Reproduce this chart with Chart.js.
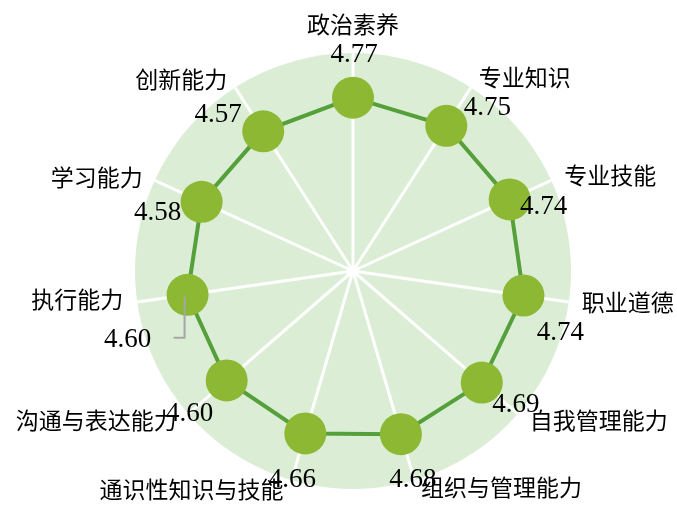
<!DOCTYPE html>
<html>
<head>
<meta charset="utf-8">
<script src="https://cdn.jsdelivr.net/npm/chart.js@4/dist/chart.umd.min.js"></script>
<style>
html,body{margin:0;padding:0;background:#fff;}
#wrap{width:677px;height:506px;}
</style>
</head>
<body>
<div id="wrap"><canvas id="c" width="677" height="506"></canvas></div>
<script>
const categories = ["政治素养","专业知识","专业技能","职业道德","自我管理能力","组织与管理能力","通识性知识与技能","沟通与表达能力","执行能力","学习能力","创新能力"];
const scores = [4.77,4.75,4.74,4.74,4.69,4.68,4.66,4.60,4.60,4.58,4.57];
const valueLabels = ["4.77","4.75","4.74","4.74","4.69","4.68","4.66","4.60","4.60","4.58","4.57"];

// label placement offsets (styling only)
const catOffsets = [[0,-26],[54,-8],[59,-2],[59,3],[81,9],[87,10],[-100,12],[-92,9],[-60,0],[-58,0],[-54,-6]];
const valOffsets = [[1,-43],[41,-18],[34,7],[37,37],[34,22],[12,46],[-13,46],[-37,33],[-60,45],[-44,11],[-45,-16]];
const leaderIndex = 8;

const CAT_FONT = '23px "Liberation Serif", "Noto Sans CJK SC", serif';
const VAL_FONT = '27px "Liberation Serif", serif';

const labelPlugin = {
  id: 'labels',
  afterDatasetsDraw(chart) {
    const ctx = chart.ctx;
    const scale = chart.scales.r;
    const meta = chart.getDatasetMeta(0);
    ctx.save();
    // leader line
    const lp = meta.data[leaderIndex];
    const lo = valOffsets[leaderIndex];
    ctx.strokeStyle = '#a6a6a6';
    ctx.lineWidth = 2;
    ctx.beginPath();
    ctx.moveTo(lp.x - 3, lp.y + 2);
    ctx.lineTo(lp.x - 3, lp.y + lo[1] - 2);
    ctx.lineTo(lp.x - 14, lp.y + lo[1] - 2);
    ctx.stroke();

    ctx.fillStyle = '#000';
    ctx.textAlign = 'center';
    ctx.textBaseline = 'middle';
    ctx.font = CAT_FONT;
    categories.forEach((c, i) => {
      const p = scale.getPointPosition(i, scale.drawingArea);
      ctx.fillText(c, p.x + catOffsets[i][0], p.y + catOffsets[i][1]);
    });
    ctx.font = VAL_FONT;
    meta.data.forEach((pt, i) => {
      ctx.fillText(valueLabels[i], pt.x + valOffsets[i][0], pt.y + valOffsets[i][1]);
    });
    ctx.restore();
  }
};

new Chart(document.getElementById('c'), {
  type: 'radar',
  data: {
    labels: categories,
    datasets: [{
      data: scores,
      borderColor: '#55a03a',
      borderWidth: 4,
      fill: false,
      pointRadius: 21,
      pointHoverRadius: 21,
      pointBackgroundColor: '#8cb833',
      pointBorderColor: '#8cb833',
      pointBorderWidth: 0
    }]
  },
  options: {
    responsive: false,
    animation: false,
    layout: { padding: { left: 130, right: 100, top: 53, bottom: 17 } },
    plugins: { legend: { display: false }, tooltip: { enabled: false } },
    scales: {
      r: {
        min: 0,
        max: 6,
        backgroundColor: '#dbeed5',
        ticks: { display: false },
        grid: { display: false, circular: true },
        angleLines: { display: true, color: '#ffffff', lineWidth: 3 },
        pointLabels: { display: false }
      }
    }
  },
  plugins: [labelPlugin]
});
</script>
</body>
</html>
